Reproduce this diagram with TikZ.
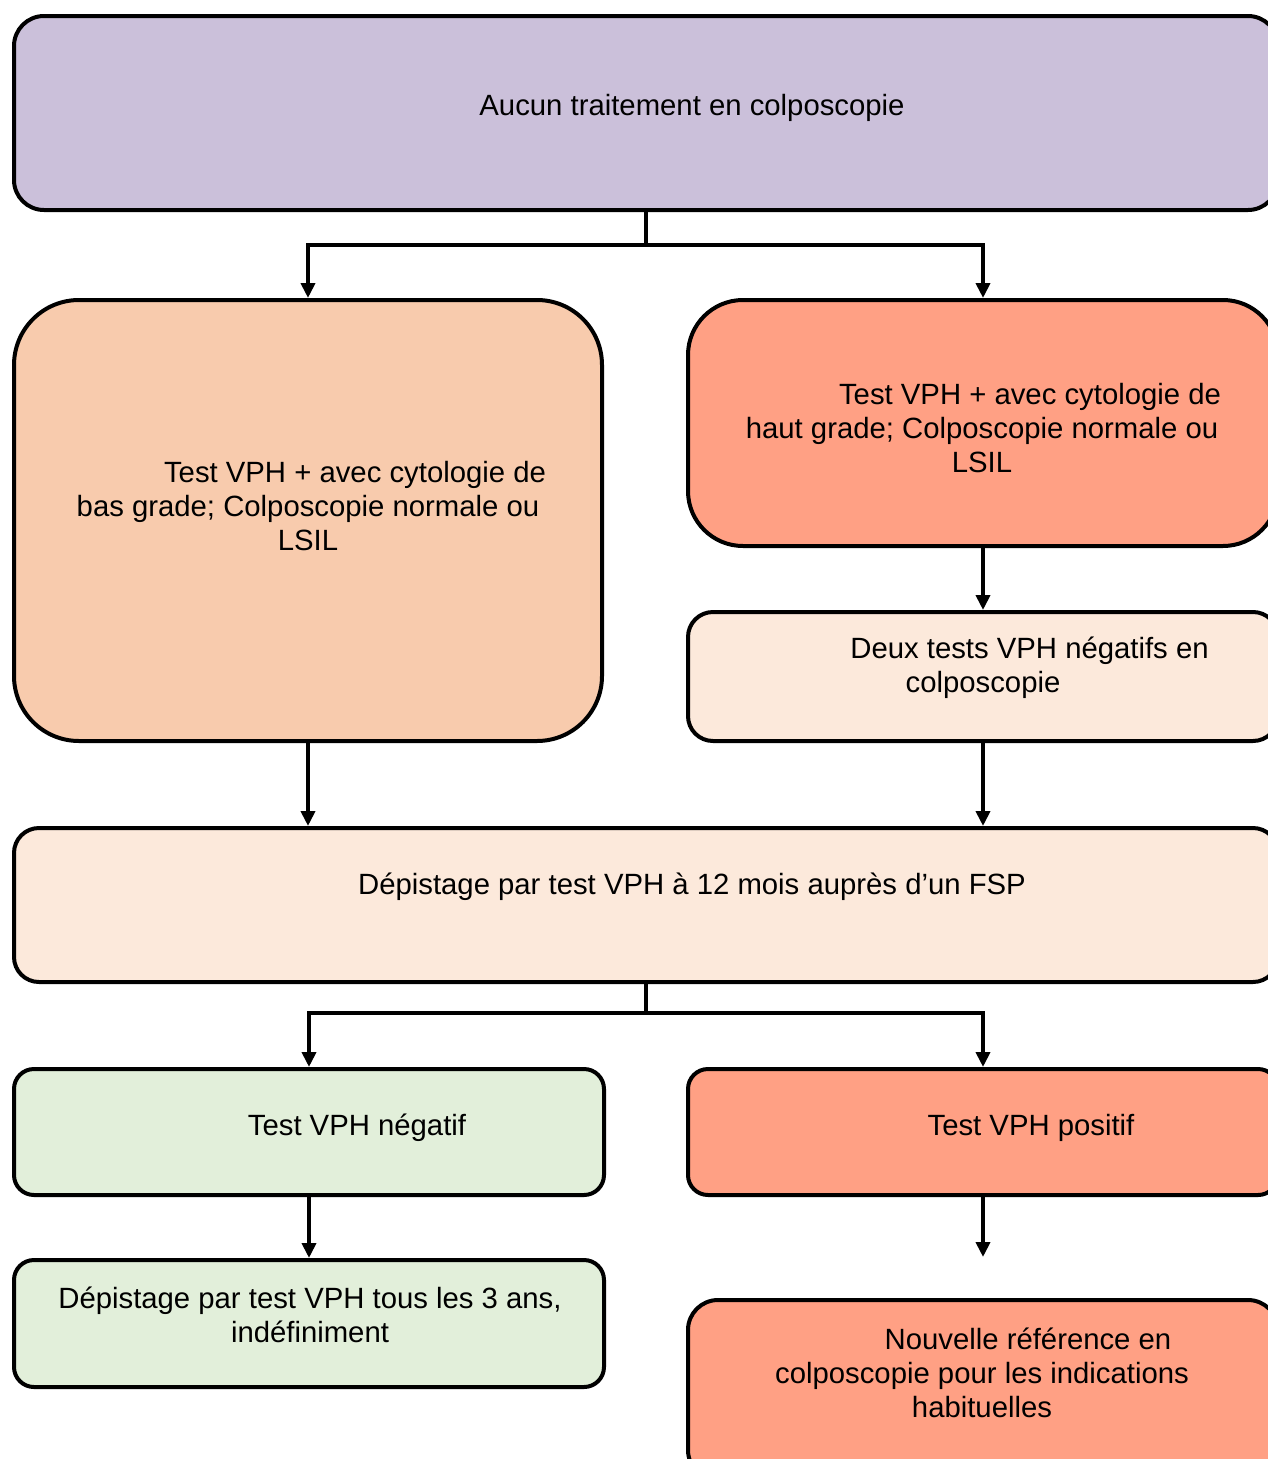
\documentclass[tikz,border=0pt]{standalone}
\usepackage{fontspec}
\setmainfont{Liberation Sans}
\usetikzlibrary{arrows.meta}

\definecolor{lavender}{HTML}{CBC0DA}
\definecolor{peach}{HTML}{F8CBAD}
\definecolor{salmon}{HTML}{FFA084}
\definecolor{cream}{HTML}{FCE9DB}
\definecolor{mint}{HTML}{E2EFDA}

\tikzset{
    box/.style={draw, line width=4pt, inner sep=0pt},
    txt/.style={align=center, inner sep=0pt, font=\fontsize{29.3}{34}\selectfont},
    arr/.style={line width=4pt, -{Triangle[width=14pt,length=15pt]}},
    conn/.style={line width=4pt}
}

\begin{document}
\begin{tikzpicture}[x=1pt, y=-1pt]
    % Fix the page to the size of the reference
    \useasboundingbox (0,0) rectangle (1267,1459);

    % Boxes of the flow chart (the right column runs past the page edge)
    \node[box, fill=lavender, rounded corners=30pt, minimum width=1264pt, minimum height=194pt] (top) at (646,113) {};
    \node[box, fill=peach, rounded corners=65pt, minimum width=588pt, minimum height=441pt] (low) at (308,520.5) {};
    \node[box, fill=salmon, rounded corners=55pt, minimum width=590pt, minimum height=246pt] (high) at (983,423) {};
    \node[box, fill=cream, rounded corners=25pt, minimum width=590pt, minimum height=129pt] (two) at (983,676.5) {};
    \node[box, fill=cream, rounded corners=25pt, minimum width=1264pt, minimum height=154pt] (fsp) at (646,905) {};
    \node[box, fill=mint, rounded corners=20pt, minimum width=590pt, minimum height=126pt] (neg) at (309,1132) {};
    \node[box, fill=salmon, rounded corners=20pt, minimum width=590pt, minimum height=126pt] (pos) at (983,1132) {};
    \node[box, fill=mint, rounded corners=20pt, minimum width=590pt, minimum height=127pt] (three) at (309,1323.5) {};
    \node[box, fill=salmon, rounded corners=30pt, minimum width=590pt, minimum height=180pt] (new) at (983,1390) {};

    % Texts of the boxes
    \node[txt] (t-top) at (692,108) {Aucun traitement en colposcopie};
    \node[txt] (t-low) at (308,506) {\hspace*{94pt}Test VPH + avec cytologie de\\bas grade; Colposcopie normale ou\\LSIL};
    \node[txt] (t-high) at (982,428) {\hspace*{96pt}Test VPH + avec cytologie de\\haut grade; Colposcopie normale ou\\LSIL};
    \node[txt] (t-two) at (983,668) {\hspace*{93pt}Deux tests VPH négatifs en\\colposcopie};
    \node[txt] (t-fsp) at (692,887) {Dépistage par test VPH à 12 mois auprès d’un FSP};
    \node[txt] (t-neg) at (357,1128) {Test VPH négatif};
    \node[txt] (t-pos) at (1031,1128) {Test VPH positif};
    \node[txt] (t-three) at (310,1315) {Dépistage par test VPH tous les 3 ans,\\indéfiniment};
    \node[txt] (t-new) at (982,1373) {\hspace*{92pt}Nouvelle référence en\\colposcopie pour les indications\\habituelles};

    % Split points and the free end of the last arrow
    \coordinate (split1) at (646,245);
    \coordinate (split2) at (646,1013);
    \coordinate (free) at (983,1257);

    % Connectors
    \draw[conn] (top.south) -- (split1);
    \draw[arr] (split1) -| (low.north);
    \draw[arr] (split1) -| (high.north);
    \draw[arr] (high.south) -- (two.north);
    \draw[arr] (low.south) -- (low.south |- fsp.north);
    \draw[arr] (two.south) -- (two.south |- fsp.north);
    \draw[conn] (fsp.south) -- (split2);
    \draw[arr] (split2) -| (neg.north);
    \draw[arr] (split2) -| (pos.north);
    \draw[arr] (neg.south) -- (three.north);
    \draw[arr] (pos.south) -- (free);

\end{tikzpicture}
\end{document}
